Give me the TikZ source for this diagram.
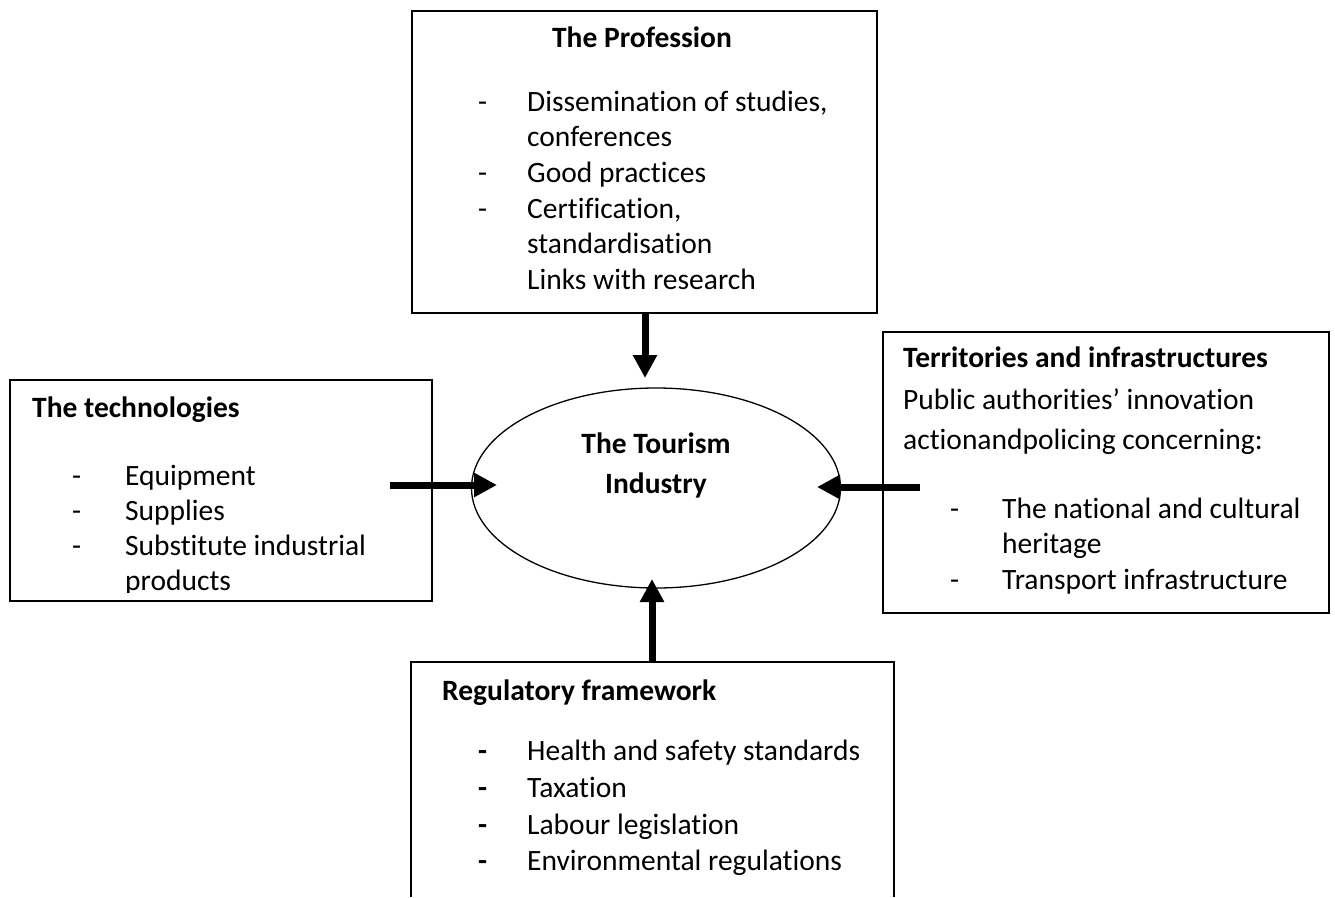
\documentclass[tikz,border=0pt]{standalone}
\usepackage{fontspec}
\setmainfont{Carlito}[RawFeature={-liga;-clig;-dlig;-calt;-rlig}]
\usetikzlibrary{arrows.meta,shapes.geometric}
\begin{document}
\begin{tikzpicture}[x=1pt,y=-1pt,
  box/.style={draw,line width=1.8pt,inner sep=0pt,anchor=north west},
  txt/.style={inner sep=0pt,anchor=base west,font=\fontsize{29.5}{35}\selectfont},
  ttl/.style={txt,font=\fontsize{29.5}{35}\selectfont\bfseries},
  bigarrow/.style={line width=7pt,-{Triangle[width=23pt,length=23pt]}}]
\useasboundingbox (0,0) rectangle (1335,897);

% boxes
\node[box,minimum width=465pt,minimum height=302pt] (prof) at (411,10) {};
\node[box,minimum width=422pt,minimum height=221pt] (tech) at (9,379) {};
\node[box,minimum width=446pt,minimum height=281pt] (terr) at (882,331) {};
\draw[line width=1.8pt] (411,897) -- (411,662) -- (894,662) -- (894,897);
\coordinate (regtop) at (652,662);

% ellipse
\node[draw,ellipse,line width=1.3pt,minimum width=369pt,minimum height=200pt,inner sep=0pt] (tour) at (656,488) {};
\node[ttl,anchor=base] (tour1) at (656,453) {The Tourism};
\node[ttl,anchor=base] (tour2) at (656,493) {Industry};

% profession text
\node[ttl,anchor=base] (p0) at (642,47) {The Profession};
\node[txt] (pb1) at (478,111) {-};
\node[txt] (p1) at (527,111) {Dissemination of studies,};
\node[txt] (p2) at (527,146) {conferences};
\node[txt] (pb2) at (478,182) {-};
\node[txt] (p3) at (527,182) {Good practices};
\node[txt] (pb3) at (478,218) {-};
\node[txt] (p4) at (527,218) {Certification,};
\node[txt] (p5) at (527,253) {standardisation};
\node[txt] (p6) at (527,289) {Links with research};

% technologies text
\node[ttl] (t0) at (32,417) {The technologies};
\node[txt] (tb1) at (72,485) {-};
\node[txt] (t1) at (125,485) {Equipment};
\node[txt] (tb2) at (72,520) {-};
\node[txt] (t2) at (125,520) {Supplies};
\node[txt] (tb3) at (72,555) {-};
\node[txt] (t3) at (125,555) {Substitute industrial};
\begin{scope}
\clip (9,379) rectangle (431,592);
\node[txt] (t4) at (125,590) {products};
\end{scope}

% territories text
\node[ttl] (r0) at (903,367) {Territories and infrastructures};
\node[txt] (r1) at (903,409) {Public authorities’ innovation};
\node[txt] (r2) at (903,449) {actionandpolicing concerning:};
\node[txt] (rb1) at (950,518) {-};
\node[txt] (r3) at (1002,518) {The national and cultural};
\node[txt] (r4) at (1002,553) {heritage};
\node[txt] (rb2) at (950,589) {-};
\node[txt] (r5) at (1002,589) {Transport infrastructure};

% regulatory text
\node[ttl] (g0) at (442,700) {Regulatory framework};
\node[txt] (gb1) at (478,760) {\textbf{-}};
\node[txt] (g1) at (527,760) {Health and safety standards};
\node[txt] (gb2) at (478,797) {\textbf{-}};
\node[txt] (g2) at (527,797) {Taxation};
\node[txt] (gb3) at (478,834) {\textbf{-}};
\node[txt] (g3) at (527,834) {Labour legislation};
\node[txt] (gb4) at (478,870) {\textbf{-}};
\node[txt] (g4) at (527,870) {Environmental regulations};

% arrow end points
\coordinate (atop1) at (645,312);
\coordinate (atop2) at (645,378);
\coordinate (aleft1) at (390,485);
\coordinate (aleft2) at (497,485);
\coordinate (aright1) at (920,487);
\coordinate (aright2) at (817,487);
\coordinate (abot2) at (652,579);

\draw[bigarrow] (atop1) -- (atop2);
\draw[bigarrow] (aleft1) -- (aleft2);
\draw[bigarrow] (aright1) -- (aright2);
\draw[bigarrow] (regtop) -- (abot2);
\end{tikzpicture}
\end{document}
